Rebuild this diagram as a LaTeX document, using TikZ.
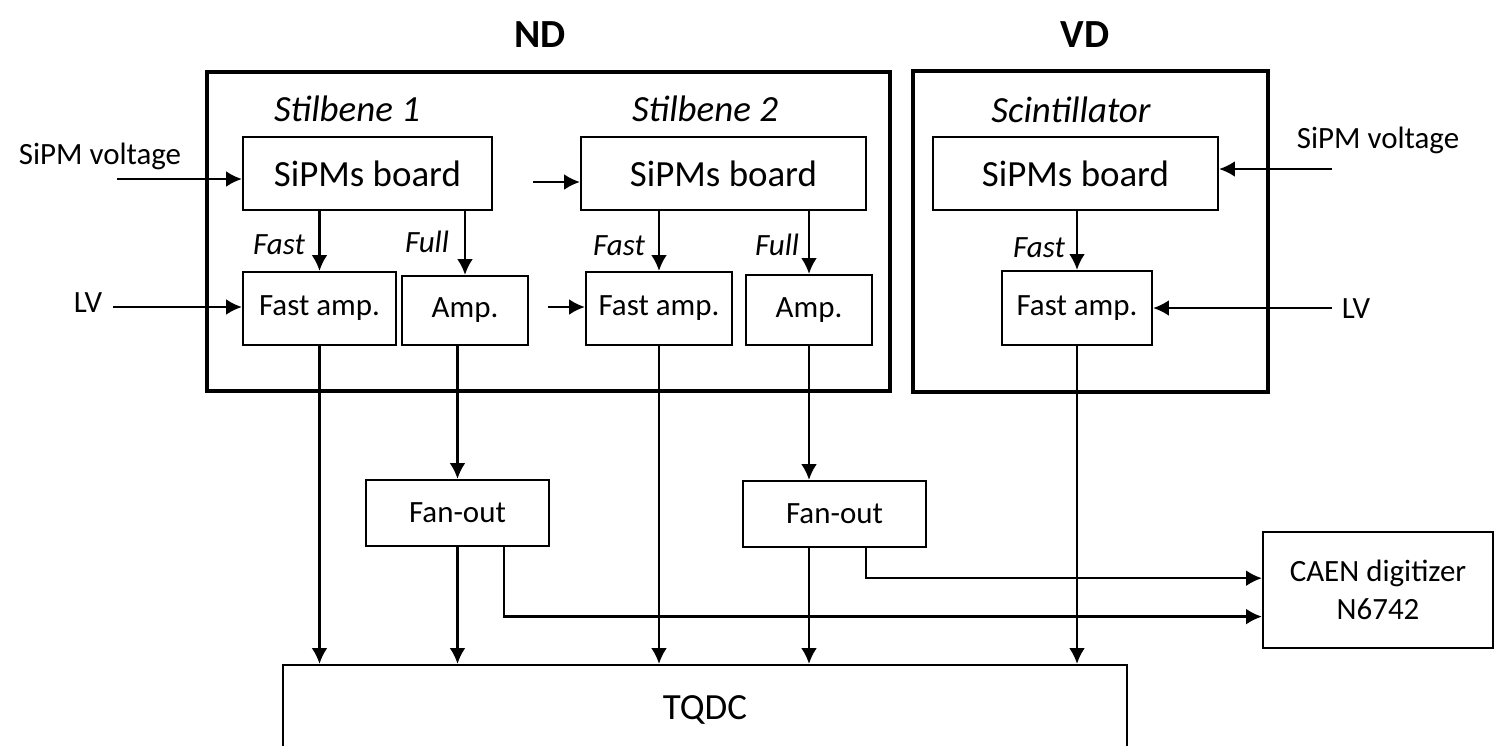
\documentclass[tikz,border=0pt]{standalone}
\usepackage{fontspec}
\setmainfont{Carlito}
\usepackage{tikz}
\usetikzlibrary{arrows.meta,calc}

\begin{document}
\begin{tikzpicture}[x=0.02cm, y=-0.02cm,
	box/.style={draw, line width=1.3pt, inner sep=0pt, font=\fontsize{17.6}{22}\selectfont},
	board/.style={box, minimum height=1.46cm, font=\fontsize{21}{25}\selectfont},
	group/.style={draw, line width=2.4pt},
	arr/.style={line width=1.3pt, -{Latex[length=9pt,width=9pt]}},
	lbl/.style={anchor=base, font=\fontsize{17.6}{22}\selectfont},
	sig/.style={anchor=base, font=\fontsize{17.6}{22}\selectfont\itshape},
	det/.style={anchor=base, font=\fontsize{21}{25}\selectfont\itshape},
	head/.style={anchor=base, font=\fontsize{22.7}{27}\selectfont\bfseries}]
	\useasboundingbox (0,0) rectangle (1496,745);
	
	% Detectors
	\draw[group] (207,72) rectangle (890,391);
	\draw[group] (913,71) rectangle (1268,392);
	\node[head] (ndt) at (540,47) {ND};
	\node[head] (vdt) at (1085,47) {VD};
	\node[det] (st1) at (347,121) {Stilbene 1};
	\node[det] (st2) at (705,121) {Stilbene 2};
	\node[det] (scn) at (1071,122) {Scintillator};
	
	% SiPMs boards
	\node[board, minimum width=4.98cm] (sb1) at (367.5,173.5) {SiPMs board};
	\node[board, minimum width=5.7cm] (sb2) at (723.5,173.5) {SiPMs board};
	\node[board, minimum width=5.7cm] (sb3) at (1075.5,173.5) {SiPMs board};
	
	% Amplifiers
	\node[box, minimum width=3.06cm, minimum height=1.46cm] (fa1) at (319.5,308.5) {Fast amp.};
	\node[box, minimum width=2.52cm, minimum height=1.38cm] (am1) at (465,310.5) {Amp.};
	\node[box, minimum width=2.92cm, minimum height=1.46cm] (fa2) at (659,308.5) {Fast amp.};
	\node[box, minimum width=2.52cm, minimum height=1.4cm] (am2) at (809,310) {Amp.};
	\node[box, minimum width=3cm, minimum height=1.48cm] (fa3) at (1077,308) {Fast amp.};
	
	% Fan-outs, TQDC and digitizer
	\node[box, minimum width=3.66cm, minimum height=1.32cm] (fo1) at (457.5,513) {Fan-out};
	\node[box, minimum width=3.66cm, minimum height=1.32cm] (fo2) at (834.5,514) {Fan-out};
	\node[box, minimum width=16.88cm, minimum height=1.8cm, font=\fontsize{21}{25}\selectfont] (tqdc) at (705,710) {TQDC};
	\node[box, minimum width=4.6cm, minimum height=2.32cm, align=center] (caen) at (1378,590) {CAEN digitizer\\N6742};
	
	% Power inputs
	\node[lbl] (hv1) at (100,164) {SiPM voltage};
	\node[lbl] (lv1) at (88,312) {LV};
	\node[lbl] (hv3) at (1378,148) {SiPM voltage};
	\node[lbl] (lv3) at (1356,318) {LV};
	\coordinate (in1) at (117,179);
	\coordinate (in2) at (113,307);
	\coordinate (in3) at (533,182);
	\coordinate (in4) at (548,307);
	\coordinate (in5) at (1332,169);
	\coordinate (in6) at (1332,308);
	\draw[arr] (in1) -- (in1 -| sb1.west);
	\draw[arr] (in2) -- (in2 -| fa1.west);
	\draw[arr] (in3) -- (in3 -| sb2.west);
	\draw[arr] (in4) -- (in4 -| fa2.west);
	\draw[arr] (in5) -- (in5 -| sb3.east);
	\draw[arr] (in6) -- (in6 -| fa3.east);
	
	% Board outputs
	\draw[arr] (sb1.south -| fa1.north) -- (fa1.north);
	\draw[arr] (sb1.south -| am1.north) -- (am1.north);
	\draw[arr] (sb2.south -| fa2.north) -- (fa2.north);
	\draw[arr] (sb2.south -| am2.north) -- (am2.north);
	\draw[arr] (sb3.south -| fa3.north) -- (fa3.north);
	\node[sig] (f1) at (279,254) {Fast};
	\node[sig] (u1) at (427,252) {Full};
	\node[sig] (f2) at (619,255) {Fast};
	\node[sig] (u2) at (777,255) {Full};
	\node[sig] (f3) at (1039,257) {Fast};
	
	% To fan-outs
	\draw[arr] (am1.south -| fo1.north) -- (fo1.north);
	\draw[arr] (am2.south) -- (am2.south |- fo2.north);
	
	% To TQDC
	\draw[arr] (fa1.south) -- (fa1.south |- tqdc.north);
	\draw[arr] (fo1.south) -- (fo1.south |- tqdc.north);
	\draw[arr] (fa2.south) -- (fa2.south |- tqdc.north);
	\draw[arr] (fo2.south -| am2.south) -- (am2.south |- tqdc.north);
	\draw[arr] (fa3.south) -- (fa3.south |- tqdc.north);
	
	% To digitizer
	\draw[arr] ($(fo2.south)!0.34!(fo2.south east)$) |- ($(caen.west)!0.2!(caen.north west)$);
	\draw[arr] ($(fo1.south)!0.5!(fo1.south east)$) |- ($(caen.west)!0.45!(caen.south west)$);
\end{tikzpicture}
\end{document}
